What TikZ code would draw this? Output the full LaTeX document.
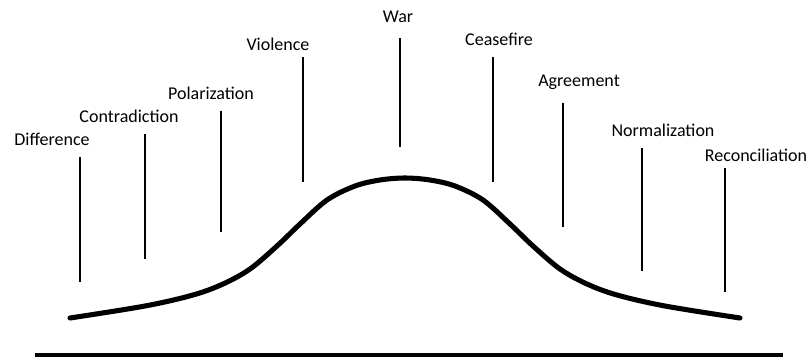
\documentclass[tikz,border=0pt]{standalone}
\usepackage{fontspec}
\setmainfont{Carlito}
\usepackage{tikz}
\usetikzlibrary{positioning, calc}

\begin{document}
\begin{tikzpicture}[
  x=0.025cm, y=-0.025cm,
  stage/.style={font=\fontsize{12.8}{15}\selectfont, inner sep=0pt},
  tick/.style={line width=1.4pt, black},
  curve/.style={line width=3.6pt, line cap=round, black},
  axis/.style={line width=2.8pt, black},
]
  \useasboundingbox (0,0) rectangle (808,358);

  % Stages
  \foreach \i/\txt/\lx/\ly/\x/\ytop/\ybot in {
      1/Difference/52/139/80/157/282,
      2/Contradiction/129/116/145/134/259,
      3/Polarization/211/93/221/111/232,
      4/Violence/278/44/303/57/182,
      5/War/398/17/400/38/147,
      6/Ceasefire/499/39/493/57/182,
      7/Agreement/579/82/563/103/227,
      8/Normalization/663/130/642/148/271,
      9/Reconciliation/756/155/725/168/292}
  {
    \node[stage] (s\i) at (\lx,\ly) {\txt};
    \coordinate (t\i) at (\x,\ytop);
    \coordinate (b\i) at (\x,\ybot);
    \draw[tick] (t\i) -- (b\i);
  }

  % Curve
  \draw[curve] plot[smooth, tension=0.55] coordinates {
    (70,318) (145,306) (193,295) (223,284) (250,269) (277,246)
    (300,224) (327,200) (355,186) (380,180) (405,178)
    (430,180) (455,186) (483,200) (510,224) (533,246)
    (560,269) (587,284) (617,295) (665,306) (740,318)};

  % Axis
  \coordinate (a0) at (35,355);
  \coordinate (a1) at (783,355);
  \draw[axis] (a0) -- (a1);
\end{tikzpicture}
\end{document}
